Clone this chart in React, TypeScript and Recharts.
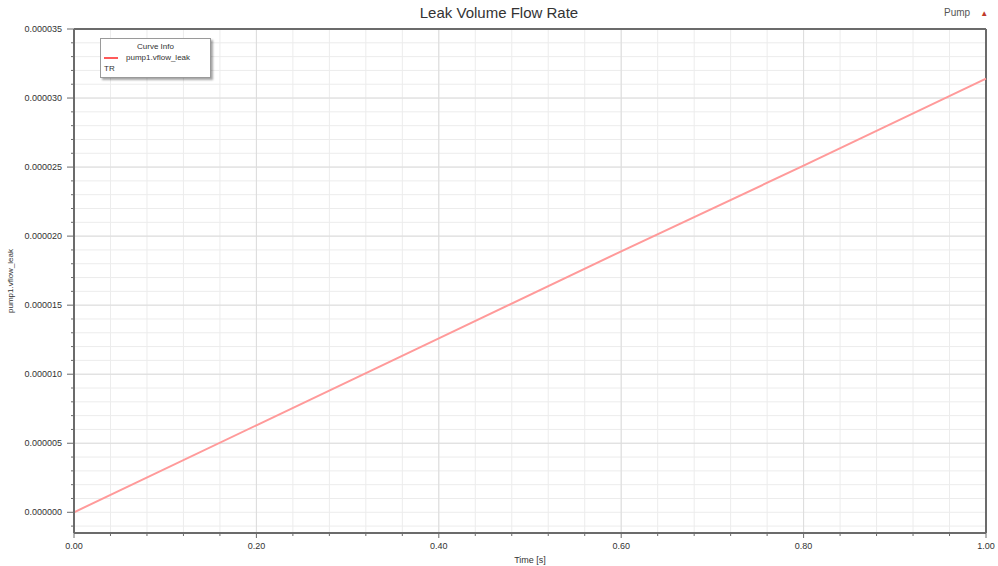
import React from "react";
import {
    LineChart,
    Line,
    XAxis,
    YAxis,
    CartesianGrid,
    ReferenceLine,
} from "recharts";

const timeValues = [0, 0.2, 0.4, 0.6, 0.8, 1.0];
const leakValues = [0, 0.0000063, 0.0000126, 0.0000189, 0.0000251, 0.0000314];

const yMajorTicks = [0, 0.000005, 0.00001, 0.000015, 0.00002, 0.000025, 0.00003, 0.000035];
const xMajorTicks = [0, 0.2, 0.4, 0.6, 0.8, 1.0];

// minor ticks (grid + small axis marks)
const yMinorTicks = Array.from({ length: 37 }, (_, i) => (i - 1) * 0.000001);
const xMinorTicks = Array.from({ length: 26 }, (_, i) => i * 0.04);

const data = timeValues.map((t, i) => ({ t, leak: leakValues[i] }));

const FONT = '"Liberation Sans", Arial, sans-serif';
const AXIS = "#6b6b6b";

const isMajorY = (v: number) => yMajorTicks.some((m) => Math.abs(m - v) < 1e-10);
const isMajorX = (v: number) => xMajorTicks.some((m) => Math.abs(m - v) < 1e-9);

function YTick(props: any) {
    const { x, y, payload } = props;
    const v = Number(payload.value);
    const major = isMajorY(v);
    return (
        <g>
            <line x1={x - (major ? 7 : 3)} x2={x} y1={y} y2={y} stroke={AXIS} strokeWidth={1} />
            {major ? (
                <text x={x - 12} y={y} dy={3} textAnchor="end" fontSize={9} fill="#333" fontFamily={FONT}>
                    {v.toFixed(6)}
                </text>
            ) : null}
        </g>
    );
}

function XTick(props: any) {
    const { x, y, payload } = props;
    const v = Number(payload.value);
    const major = isMajorX(v);
    return (
        <g>
            <line x1={x} x2={x} y1={y} y2={y + (major ? 5 : 3)} stroke={AXIS} strokeWidth={1} />
            {major ? (
                <text x={x} y={y + 16} textAnchor="middle" fontSize={9} fill="#333" fontFamily={FONT}>
                    {v.toFixed(2)}
                </text>
            ) : null}
        </g>
    );
}

function CurveInfo() {
    return (
        <div
            style={{
                position: "absolute",
                left: 100,
                top: 38,
                width: 103,
                border: "1px solid #9a9a9a",
                background: "#fff",
                boxShadow: "2px 2px 2px rgba(0,0,0,0.35)",
                fontFamily: FONT,
                fontSize: 8,
                color: "#333",
                padding: "2px 3px 3px 3px",
                lineHeight: "11px",
            }}
        >
            <div style={{ textAlign: "center" }}>Curve Info</div>
            <div style={{ display: "flex", alignItems: "center" }}>
                <span style={{ display: "inline-block", width: 14, height: 2, background: "#ff5a5a", marginRight: 8 }} />
                <span>pump1.vflow_leak</span>
            </div>
            <div>TR</div>
        </div>
    );
}

export default function App() {
    return (
        <div style={{ position: "absolute", left: 0, top: 0, width: 998, height: 566, background: "#fff" }}>
            <div
                style={{
                    position: "absolute",
                    left: 0,
                    width: 998,
                    top: 4,
                    textAlign: "center",
                    fontFamily: FONT,
                    fontSize: 15,
                    color: "#333",
                }}
            >
                Leak Volume Flow Rate
            </div>
            <div style={{ position: "absolute", left: 944, top: 7, fontFamily: FONT, fontSize: 10, color: "#555" }}>
                Pump
                <span style={{ color: "#c0392b", fontSize: 8, marginLeft: 10 }}>▲</span>
            </div>
            <LineChart width={998} height={566} data={data} margin={{ top: 29, right: 12, left: 0, bottom: 0 }}>
                <CartesianGrid stroke="#ececec" strokeWidth={1} />
                <XAxis
                    dataKey="t"
                    type="number"
                    domain={[0, 1]}
                    ticks={xMinorTicks}
                    interval={0}
                    height={33}
                    tickSize={0}
                    tickMargin={0}
                    tickLine={false}
                    tick={<XTick />}
                    axisLine={{ stroke: AXIS, strokeWidth: 2 }}
                    label={{ value: "Time [s]", position: "insideBottom", offset: 3, fontSize: 9, fill: "#333", fontFamily: FONT }}
                />
                <YAxis
                    type="number"
                    domain={[-0.0000015, 0.000035]}
                    ticks={yMinorTicks}
                    interval={0}
                    width={74}
                    tickSize={0}
                    tickMargin={0}
                    tickLine={false}
                    tick={<YTick />}
                    axisLine={{ stroke: AXIS, strokeWidth: 2 }}
                    allowDataOverflow
                    label={{
                        value: "pump1.vflow_leak",
                        angle: -90,
                        position: "insideLeft",
                        offset: 10,
                        fontSize: 8,
                        fill: "#333",
                        fontFamily: FONT,
                        style: { textAnchor: "middle" },
                    }}
                />
                {xMajorTicks.slice(1, -1).map((v) => (
                    <ReferenceLine key={v} x={v} stroke="#dcdcdc" strokeWidth={1} />
                ))}
                {yMajorTicks.slice(1, -1).map((v) => (
                    <ReferenceLine key={v} y={v} stroke="#dcdcdc" strokeWidth={1} />
                ))}
                <ReferenceLine y={0.000035} stroke={AXIS} strokeWidth={2} />
                <ReferenceLine x={1} stroke={AXIS} strokeWidth={2} />
                <Line
                    type="linear"
                    dataKey="leak"
                    stroke="#ff9a9a"
                    strokeWidth={2}
                    dot={false}
                    isAnimationActive={false}
                />
            </LineChart>
            <CurveInfo />
        </div>
    );
}
